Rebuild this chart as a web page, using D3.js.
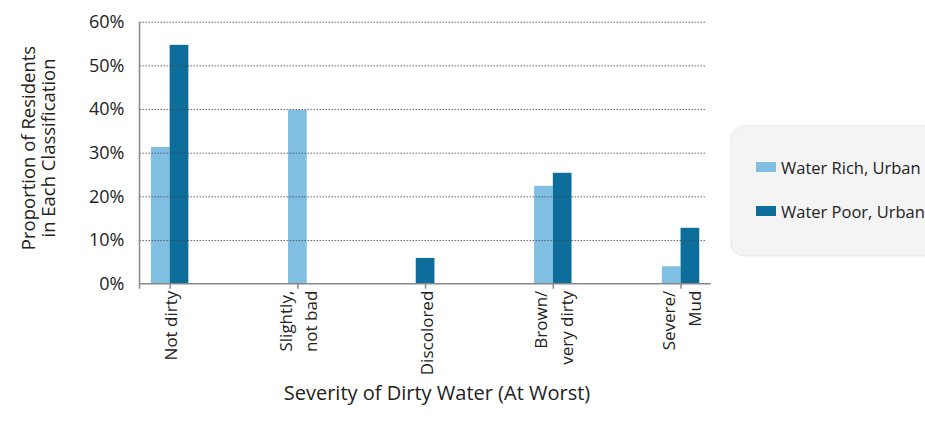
<!DOCTYPE html>
<html>
<head>
<meta charset="utf-8">
<script src="https://cdn.jsdelivr.net/npm/d3@7"></script>
<style>
  html, body { margin: 0; padding: 0; background: #ffffff; }
  svg { display: block; font-family: "Open Sans", "DejaVu Sans", sans-serif; }
</style>
</head>
<body>
<svg id="chart" width="925" height="421"></svg>
<script>
// Categories (label lines) and series values, in percent
const categories = ["Not dirty", "Slightly, not bad", "Discolored", "Brown/ very dirty", "Severe/ Mud"];
const categoryLines = [["Not dirty"], ["Slightly,", "not bad"], ["Discolored"], ["Brown/", "very dirty"], ["Severe/", "Mud"]];
const waterRichUrban = [31.3, 39.8, 0, 22.4, 4.0];
const waterPoorUrban = [54.7, 0, 5.9, 25.4, 12.8];
const seriesNames = ["Water Rich, Urban", "Water Poor, Urban"];
const yTickValues = [0, 10, 20, 30, 40, 50, 60];
const yTickLabels = ["0%", "10%", "20%", "30%", "40%", "50%", "60%"];

const colors = ["#80bee2", "#0d6e9b"];
const svg = d3.select("#chart");

const plot = { left: 139.5, right: 710.7, top: 21.7, bottom: 283.7, gridRight: 706 };
const barW = 18.7;

const x = d3.scalePoint().domain(categories).range([plot.left, plot.right]).padding(0.236);
const y = d3.scaleLinear().domain([0, 60]).range([plot.bottom, plot.top]);

// Bars: side by side per group; a lone non-zero bar is centred on its group
const bars = [];
categories.forEach((c, i) => {
  const vals = [waterRichUrban[i], waterPoorUrban[i]];
  const present = vals.map((v, s) => ({ v, s })).filter(d => d.v > 0);
  const cx = x(c);
  present.forEach(d => {
    const x0 = present.length === 1 ? cx - barW / 2 : cx + (d.s === 0 ? -barW : 0);
    bars.push({ x0, v: d.v, s: d.s });
  });
});

svg.append("g").selectAll("rect").data(bars).join("rect")
  .attr("x", d => d.x0)
  .attr("width", barW)
  .attr("y", d => y(d.v))
  .attr("height", d => y(0) - y(d.v))
  .attr("fill", d => colors[d.s]);

// Dotted gridlines drawn over the bars
const grid = svg.append("g")
  .attr("transform", `translate(${plot.left},0)`)
  .call(d3.axisLeft(y).tickValues(yTickValues.filter(v => v > 0)).tickSize(-(plot.gridRight - plot.left)).tickFormat(""));
grid.select(".domain").remove();
grid.selectAll("line")
  .attr("stroke", "#444")
  .attr("stroke-opacity", 0.8)
  .attr("stroke-width", 1)
  .attr("stroke-dasharray", "1.5,1.5");

// Y tick labels
const yl = svg.append("g")
  .attr("transform", `translate(${plot.left},0)`)
  .call(d3.axisLeft(y).tickValues(yTickValues).tickSize(0).tickPadding(15)
    .tickFormat((d, i) => yTickLabels[i]));
yl.select(".domain").remove();
yl.selectAll("text")
  .attr("font-size", 18)
  .attr("font-family", "'Open Sans', sans-serif")
  .attr("fill", "#222");

// Axis lines
svg.append("line")
  .attr("x1", plot.left).attr("x2", plot.left)
  .attr("y1", plot.top).attr("y2", plot.bottom + 5)
  .attr("stroke", "#888").attr("stroke-width", 1.5);

const xa = svg.append("g")
  .attr("transform", `translate(0,${plot.bottom})`)
  .call(d3.axisBottom(x).tickSize(5).tickSizeOuter(0).tickFormat(""));
xa.select(".domain")
  .attr("d", `M${plot.left},0H${plot.right}`)
  .attr("stroke", "#888").attr("stroke-width", 1.5);
xa.selectAll(".tick line").attr("stroke", "#888").attr("stroke-width", 1.5);

// Rotated category labels
const lineOffsets = { 1: [7.5], 2: [-5.5, 20] };
categories.forEach((c, i) => {
  const lines = categoryLines[i];
  const g = svg.append("g")
    .attr("transform", `translate(${x(c)},${plot.bottom + 7}) rotate(-90)`);
  lines.forEach((t, k) => {
    g.append("text")
      .attr("x", 0)
      .attr("y", lineOffsets[lines.length][k])
      .attr("text-anchor", "end")
      .attr("font-size", 17)
      .attr("fill", "#222")
      .text(t);
  });
});

// Axis titles
svg.append("text")
  .attr("x", 437).attr("y", 400)
  .attr("text-anchor", "middle")
  .attr("font-size", 20)
  .attr("fill", "#222")
  .text("Severity of Dirty Water (At Worst)");

const yt = svg.append("g").attr("transform", "translate(0,148) rotate(-90)");
yt.append("text").attr("x", 0).attr("y", 35).attr("text-anchor", "middle")
  .attr("font-size", 18.5).attr("fill", "#222").text("Proportion of Residents");
yt.append("text").attr("x", 0).attr("y", 55).attr("text-anchor", "middle")
  .attr("font-size", 18.5).attr("fill", "#222").text("in Each Classification");

// Legend
const lg = svg.append("g");
lg.append("rect")
  .attr("x", 731).attr("y", 126).attr("width", 260).attr("height", 130)
  .attr("rx", 13).attr("ry", 13)
  .attr("fill", "#f4f4f4").attr("stroke", "#e8e8e8");
seriesNames.forEach((name, i) => {
  const yy = 162 + i * 44;
  lg.append("rect").attr("x", 756).attr("y", yy).attr("width", 20).attr("height", 10)
    .attr("fill", colors[i]);
  lg.append("text").attr("x", 781).attr("y", yy + 11.5)
    .attr("font-size", 16.5).attr("fill", "#222").text(name);
});
</script>
</body>
</html>
